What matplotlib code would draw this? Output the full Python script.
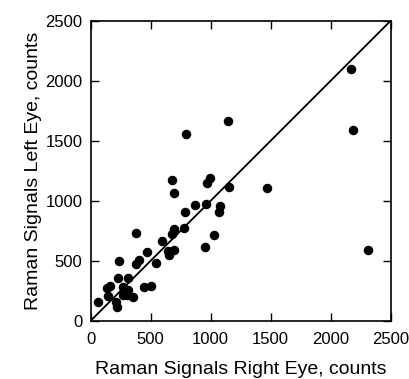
import matplotlib
matplotlib.use('Agg')
import matplotlib.pyplot as plt

plt.rcParams['font.family'] = ['Liberation Sans', 'DejaVu Sans']

# Raman signals (counts)
right_eye = [64, 133, 147, 161, 231, 239, 211, 222, 272, 267, 300, 314, 314, 350,
             378, 378, 400, 444, 472, 500, 544, 592, 642, 653, 675, 692, 678, 697,
             694, 781, 783, 794, 867, 956, 958, 972, 994, 1025, 1067, 1078, 1147,
             1150, 1467, 2169, 2189, 2314]
left_eye = [158, 269, 208, 292, 353, 497, 158, 111, 278, 214, 214, 353, 256, 200,
            733, 469, 506, 283, 575, 292, 478, 664, 583, 547, 1172, 1061, 719, 761,
            589, 775, 906, 1553, 964, 611, 972, 1144, 1192, 711, 903, 956, 1664,
            1111, 1103, 2094, 1586, 592]
ticks = [0, 500, 1000, 1500, 2000, 2500]

fig = plt.figure(figsize=(4.09, 3.79), dpi=100)
ax = fig.add_axes([0.2218, 0.1538, 0.7335, 0.7916])

ax.plot([0, 2500], [0, 2500], color='black', linewidth=1.3)
ax.scatter(right_eye, left_eye, s=34, color='black', zorder=3)

ax.set_xlim(0, 2500)
ax.set_ylim(0, 2500)
ax.set_xticks(ticks)
ax.set_yticks(ticks)
ax.tick_params(direction='in', top=True, right=True, length=6, width=1,
               labelsize=12)
ax.tick_params(axis='x', pad=8)
ax.tick_params(axis='y', pad=6)
for s in ax.spines.values():
    s.set_linewidth(1.2)

ax.set_xlabel('Raman Signals Right Eye, counts', fontsize=14, labelpad=10)
ax.set_ylabel('Raman Signals Left Eye, counts', fontsize=14, labelpad=2)

plt.savefig('out.png', dpi=100)
